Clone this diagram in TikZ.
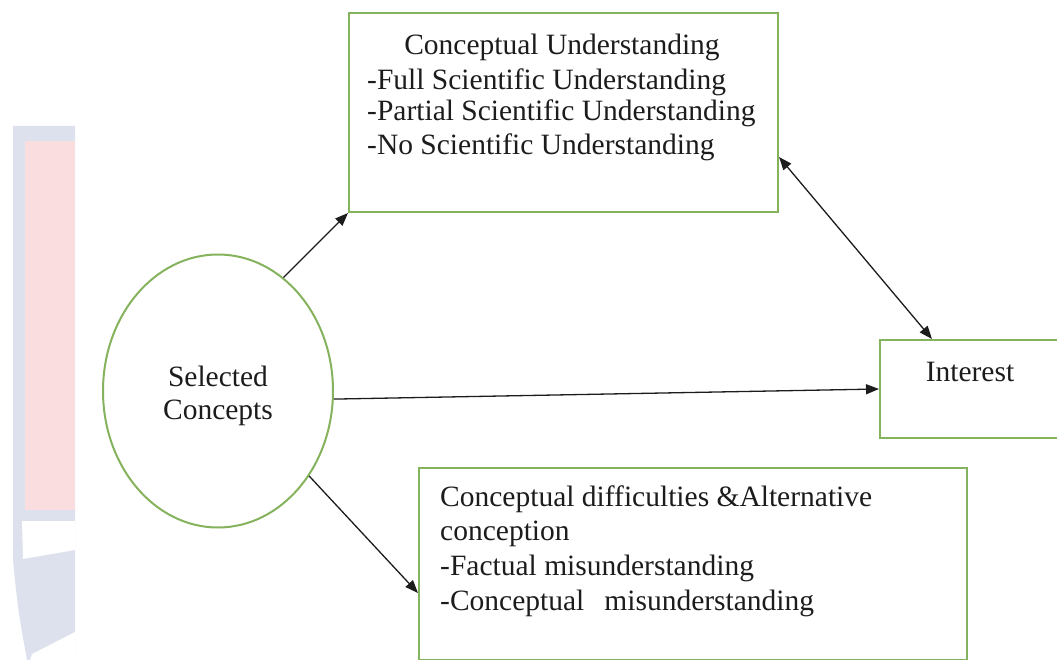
\documentclass[tikz,border=0pt]{standalone}
\usepackage{fontspec}
\setmainfont{Liberation Serif}
\usetikzlibrary{arrows.meta,calc,shapes.geometric}
\definecolor{bgreen}{RGB}{133,178,92}
\definecolor{wmgrey}{RGB}{221,225,237}
\definecolor{wmpink}{RGB}{249,221,223}
\definecolor{ink}{RGB}{28,28,28}
\tikzset{
  box/.style={draw=bgreen, line width=2pt, rectangle, inner sep=0pt, anchor=north west},
  oval/.style={draw=bgreen, line width=2pt, ellipse, inner sep=0pt},
  lbl/.style={font=\fontsize{29.5}{34}\selectfont, text=ink, inner sep=0pt},
  tip/.tip={Triangle[length=13pt,width=10pt]},
  conn/.style={draw=ink, line width=1.3pt, -tip},
  dconn/.style={draw=ink, line width=1.3pt, tip-tip},
}
\begin{document}
\begin{tikzpicture}[x=1pt,y=-1pt]
\useasboundingbox (0,0) rectangle (1057,660);
\clip (0,0) rectangle (1057,660);
% faint background watermark
\fill[wmgrey] (13,126) -- (75,126) -- (75,660) -- (27,660) .. controls (18,610) .. (13,560) -- cycle;
\fill[wmpink] (25,141) rectangle (75,510);
\fill[white] (22,521) -- (75,521) -- (75,550) -- (23,559) -- cycle;
\fill[white] (30,660) -- (32,654) -- (75,632) -- (75,660) -- cycle;

% nodes
\node[box, minimum width=429pt, minimum height=199pt] (cu) at (348,12) {};
\node[box, minimum width=191pt, minimum height=98pt] (int) at (879,339) {};
\node[box, minimum width=548pt, minimum height=192pt] (cd) at (418,467) {};
\node[oval, minimum width=230pt, minimum height=273pt] (sc) at (218,391) {};

% texts
\node[lbl, anchor=base] (cu1) at (562,55) {Conceptual Understanding};
\node[lbl, anchor=base west] (cu2) at (367,90) {-Full Scientific Understanding};
\node[lbl, anchor=base west] (cu3) at (367,121) {-Partial Scientific Understanding};
\node[lbl, anchor=base west] (cu4) at (367,155) {-No Scientific Understanding};

\node[lbl, anchor=base] (sc1) at (218,386) {Selected};
\node[lbl, anchor=base] (sc2) at (218,419) {Concepts};

\node[lbl, anchor=base] (int1) at (970,381) {Interest};

\node[lbl, anchor=base west] (cd1) at (440,506) {Conceptual difficulties \&Alternative};
\node[lbl, anchor=base west] (cd2) at (440,540) {conception};
\node[lbl, anchor=base west] (cd3) at (440,575) {-Factual misunderstanding};
\node[lbl, anchor=base west] (cd4) at (440,610) {-Conceptual\hspace{20pt}misunderstanding};

% connectors
\coordinate (cdin) at ($(cd.north west)+(0,126)$);
\coordinate (cuout) at ($(cu.north east)+(0,145)$);
\coordinate (intin) at ($(int.north west)+(53,0)$);
\draw[conn] (sc.60) -- (cu.south west);
\draw[conn] (sc.356) -- (int.west);
\draw[conn] (sc.317) -- (cdin);
\draw[dconn] (cuout) -- (intin);
\end{tikzpicture}
\end{document}
